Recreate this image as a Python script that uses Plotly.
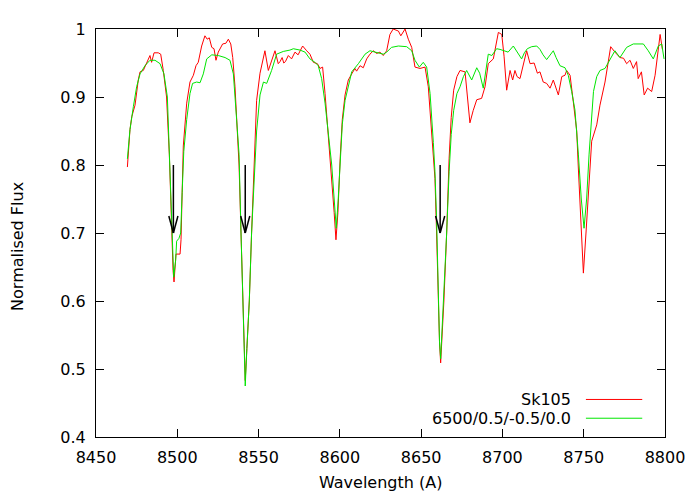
import plotly.graph_objects as go

# ---------------- data ----------------
obs_name = "Sk105"
obs_wl = [8469.3, 8470.9, 8472.0, 8474.0, 8476.0, 8477.1, 8479.1, 8480.1, 8482.2, 8483.2,
          8484.2, 8485.7, 8488.3, 8489.8, 8491.4, 8493.4, 8495.1, 8496.5, 8497.4, 8498.0,
          8498.6, 8499.2, 8501.7, 8502.3, 8503.0, 8503.7, 8505.8, 8507.8, 8509.9, 8511.5,
          8512.9, 8515.0, 8517.0, 8518.4, 8519.7, 8521.2, 8522.6, 8523.8, 8525.2, 8527.9,
          8529.9, 8531.4, 8532.9, 8534.1, 8535.5, 8536.8, 8538.0, 8539.2, 8540.2, 8541.0,
          8541.8, 8542.8, 8544.3, 8545.7, 8547.3, 8548.8, 8550.9, 8553.9, 8556.0, 8558.0,
          8560.1, 8562.1, 8563.2, 8564.5, 8565.5, 8566.5, 8568.3, 8570.3, 8572.4, 8574.3,
          8577.1, 8579.6, 8581.6, 8583.7, 8586.2, 8587.8, 8589.4, 8590.9, 8593.0, 8595.0,
          8596.5, 8597.6, 8598.8, 8600.2, 8601.5, 8603.2, 8605.2, 8607.3, 8609.3, 8610.3,
          8612.4, 8614.4, 8616.5, 8618.5, 8620.6, 8622.6, 8624.7, 8626.7, 8628.8, 8630.8,
          8632.8, 8636.0, 8637.5, 8640.1, 8642.1, 8644.2, 8646.2, 8649.3, 8652.4, 8654.4,
          8656.5, 8658.5, 8659.5, 8660.5, 8661.3, 8662.0, 8663.0, 8664.0, 8665.7, 8667.2,
          8668.5, 8670.0, 8672.0, 8673.9, 8677.0, 8678.5, 8680.0, 8682.0, 8684.2, 8687.2,
          8689.3, 8691.3, 8694.4, 8697.5, 8699.6, 8701.0, 8702.6, 8704.7, 8706.3, 8707.7,
          8709.0, 8710.8, 8712.8, 8714.9, 8717.0, 8719.5, 8721.5, 8723.1, 8725.1, 8727.2,
          8729.3, 8731.3, 8733.4, 8734.4, 8736.5, 8738.5, 8739.5, 8741.6, 8743.6, 8745.7,
          8746.6, 8748.7, 8749.8, 8751.4, 8753.0, 8754.9, 8758.0, 8760.0, 8763.1, 8765.1,
          8766.6, 8769.2, 8772.3, 8774.5, 8776.4, 8778.5, 8780.5, 8782.5, 8783.5, 8785.5,
          8787.2, 8789.3, 8791.8, 8793.9, 8795.5, 8797.0, 8798.4]
obs_flux = [0.797, 0.852, 0.871, 0.888, 0.925, 0.937, 0.939, 0.944, 0.956, 0.961,
            0.951, 0.965, 0.965, 0.963, 0.939, 0.900, 0.816, 0.700, 0.645, 0.628,
            0.650, 0.669, 0.669, 0.690, 0.760, 0.828, 0.891, 0.922, 0.932, 0.946,
            0.951, 0.975, 0.990, 0.985, 0.987, 0.973, 0.971, 0.954, 0.966, 0.978,
            0.979, 0.985, 0.978, 0.958, 0.915, 0.850, 0.800, 0.700, 0.600, 0.530,
            0.483, 0.530, 0.600, 0.700, 0.800, 0.895, 0.935, 0.968, 0.939, 0.954,
            0.968, 0.949, 0.952, 0.958, 0.950, 0.952, 0.961, 0.956, 0.966, 0.962,
            0.975, 0.968, 0.963, 0.951, 0.949, 0.942, 0.944, 0.905, 0.840, 0.790,
            0.730, 0.690, 0.730, 0.810, 0.867, 0.903, 0.925, 0.934, 0.942, 0.938,
            0.946, 0.943, 0.956, 0.963, 0.968, 0.964, 0.966, 0.961, 0.968, 0.992,
            1.000, 0.997, 0.990, 1.000, 0.985, 0.973, 0.944, 0.942, 0.944, 0.915,
            0.842, 0.780, 0.700, 0.600, 0.540, 0.509, 0.550, 0.600, 0.700, 0.810,
            0.870, 0.910, 0.930, 0.939, 0.937, 0.900, 0.862, 0.880, 0.896, 0.898,
            0.915, 0.949, 0.956, 0.995, 0.992, 0.960, 0.910, 0.939, 0.925, 0.939,
            0.930, 0.927, 0.945, 0.968, 0.949, 0.950, 0.935, 0.937, 0.922, 0.920,
            0.913, 0.925, 0.910, 0.903, 0.930, 0.932, 0.939, 0.932, 0.893, 0.850,
            0.800, 0.700, 0.641, 0.700, 0.770, 0.835, 0.859, 0.888, 0.922, 0.951,
            0.974, 0.966, 0.958, 0.957, 0.949, 0.954, 0.942, 0.952, 0.927, 0.937,
            0.903, 0.913, 0.908, 0.932, 0.961, 0.992, 0.970]

model_name = "6500/0.5/-0.5/0.0"
model_wl = [8469.3, 8470.9, 8473.0, 8475.0, 8477.1, 8480.1, 8483.2, 8486.3, 8489.4, 8491.8,
            8493.9, 8495.1, 8496.5, 8497.8, 8499.0, 8499.6, 8501.0, 8502.1, 8503.0, 8504.0,
            8505.8, 8507.8, 8509.4, 8511.9, 8514.0, 8516.0, 8518.1, 8521.2, 8525.2, 8529.4,
            8532.4, 8534.5, 8536.5, 8538.0, 8539.2, 8540.2, 8541.0, 8541.8, 8542.8, 8544.3,
            8545.7, 8547.8, 8548.8, 8550.9, 8553.0, 8555.0, 8558.0, 8561.1, 8565.2, 8569.3,
            8571.4, 8575.5, 8578.6, 8581.6, 8584.7, 8586.7, 8588.8, 8590.9, 8593.0, 8595.0,
            8596.5, 8597.8, 8599.0, 8600.2, 8601.5, 8603.2, 8605.2, 8607.3, 8611.4, 8615.5,
            8618.5, 8622.6, 8626.7, 8628.8, 8631.8, 8636.0, 8641.1, 8644.2, 8646.2, 8648.9,
            8651.3, 8653.4, 8655.5, 8657.5, 8658.5, 8659.5, 8660.5, 8661.3, 8662.0, 8663.0,
            8664.0, 8665.7, 8667.2, 8668.5, 8670.0, 8672.0, 8673.9, 8676.0, 8678.0, 8681.1,
            8684.2, 8686.0, 8688.2, 8690.0, 8691.3, 8693.5, 8696.4, 8698.5, 8700.5, 8703.5,
            8706.7, 8709.5, 8711.8, 8713.5, 8715.3, 8718.0, 8721.1, 8723.1, 8725.0, 8727.2,
            8729.3, 8731.3, 8733.0, 8735.4, 8738.5, 8740.5, 8742.6, 8744.6, 8746.7, 8748.5,
            8750.2, 8751.8, 8753.3, 8754.5, 8756.0, 8758.0, 8760.0, 8763.1, 8766.2, 8769.2,
            8772.3, 8776.4, 8780.5, 8786.7, 8789.7, 8792.8, 8795.9, 8798.0, 8799.4]
model_flux = [0.809, 0.852, 0.886, 0.915, 0.934, 0.946, 0.954, 0.954, 0.949, 0.934,
              0.900, 0.816, 0.700, 0.635, 0.660, 0.688, 0.692, 0.700, 0.760, 0.820,
              0.867, 0.905, 0.920, 0.922, 0.921, 0.934, 0.956, 0.962, 0.961, 0.958,
              0.954, 0.934, 0.867, 0.816, 0.700, 0.600, 0.530, 0.475, 0.530, 0.600,
              0.700, 0.816, 0.850, 0.903, 0.922, 0.920, 0.939, 0.963, 0.967, 0.969,
              0.971, 0.969, 0.966, 0.956, 0.951, 0.946, 0.927, 0.891, 0.840, 0.800,
              0.750, 0.707, 0.750, 0.810, 0.860, 0.895, 0.915, 0.937, 0.949, 0.963,
              0.968, 0.966, 0.963, 0.966, 0.973, 0.975, 0.974, 0.968, 0.954, 0.944,
              0.951, 0.944, 0.905, 0.833, 0.790, 0.720, 0.610, 0.540, 0.515, 0.560,
              0.610, 0.700, 0.790, 0.845, 0.880, 0.905, 0.915, 0.930, 0.939, 0.925,
              0.943, 0.935, 0.913, 0.945, 0.963, 0.961, 0.971, 0.970, 0.968, 0.966,
              0.975, 0.965, 0.956, 0.965, 0.971, 0.974, 0.975, 0.970, 0.962, 0.955,
              0.962, 0.968, 0.958, 0.946, 0.943, 0.932, 0.908, 0.881, 0.816, 0.750,
              0.707, 0.750, 0.816, 0.865, 0.908, 0.930, 0.939, 0.942, 0.956, 0.968,
              0.958, 0.973, 0.978, 0.978, 0.968, 0.956, 0.975, 0.978, 0.956]

# Ca II triplet markers (arrows from 0.8 down to 0.7)
arrow_wl = [8497.6, 8541.8, 8661.7]
arrow_from = 0.8
arrow_to = 0.7

x_ticks = [8450, 8500, 8550, 8600, 8650, 8700, 8750, 8800]
y_ticks = [0.4, 0.5, 0.6, 0.7, 0.8, 0.9, 1.0]
y_tick_text = ["0.4", "0.5", "0.6", "0.7", "0.8", "0.9", "1"]

x_title = "Wavelength (A)"
y_title = "Normalised Flux"

# ---------------- styling ----------------
FONT = "DejaVu Sans, Liberation Sans, Arial, sans-serif"
FS = 16
RED = "#ff0000"
GREEN = "#00e600"

fig = go.Figure()
fig.add_trace(go.Scatter(x=obs_wl, y=obs_flux, mode="lines", name=obs_name,
                         line=dict(color=RED, width=1), showlegend=False))
fig.add_trace(go.Scatter(x=model_wl, y=model_flux, mode="lines", name=model_name,
                         line=dict(color=GREEN, width=1), showlegend=False))

shapes = []
head_dx = 2.8
head_dy = 0.025
for w in arrow_wl:
    shapes.append(dict(type="line", xref="x", yref="y", x0=w, x1=w, y0=arrow_from, y1=arrow_to,
                       line=dict(color="black", width=1.5)))
    shapes.append(dict(type="line", xref="x", yref="y", x0=w - head_dx, x1=w,
                       y0=arrow_to + head_dy, y1=arrow_to, line=dict(color="black", width=1.5)))
    shapes.append(dict(type="line", xref="x", yref="y", x0=w + head_dx, x1=w,
                       y0=arrow_to + head_dy, y1=arrow_to, line=dict(color="black", width=1.5)))

# manual gnuplot-style key (text right-aligned, sample to the right)
key_items = [(obs_name, RED, 0.092), (model_name, GREEN, 0.046)]
annotations = []
for name, col, yy in key_items:
    annotations.append(dict(xref="paper", yref="paper", x=0.838, y=yy, xanchor="right",
                            yanchor="middle", text=name, showarrow=False,
                            font=dict(family=FONT, size=FS, color="black")))
    shapes.append(dict(type="line", xref="paper", yref="paper", x0=0.861, x1=0.96,
                       y0=yy, y1=yy, line=dict(color=col, width=1)))

annotations.append(dict(xref="paper", yref="paper", x=0.5, y=-0.112, xanchor="center",
                        yanchor="middle", text=x_title, showarrow=False,
                        font=dict(family=FONT, size=FS, color="black")))
annotations.append(dict(xref="paper", yref="paper", x=-0.137, y=0.466, xanchor="center",
                        yanchor="middle", text=y_title, showarrow=False, textangle=-90,
                        font=dict(family=FONT, size=FS, color="black")))

# the page puts the figure 8px in from the top-left corner, so the figure is
# sized/margined to land the plot box where the reference has it
fig.update_layout(
    width=692, height=492,
    margin=dict(l=88, r=35, t=15, b=63),
    paper_bgcolor="white", plot_bgcolor="white",
    font=dict(family=FONT, size=FS, color="black"),
    shapes=shapes, annotations=annotations,
    showlegend=False,
)
fig.update_xaxes(range=[8450, 8800], tickvals=x_ticks, ticks="inside", ticklen=8,
                 tickcolor="black", showline=True, linecolor="black", linewidth=1,
                 mirror="ticks", showgrid=False, zeroline=False, ticklabelstandoff=6)
fig.update_yaxes(range=[0.4, 1.0], tickvals=y_ticks, ticktext=y_tick_text, ticks="inside",
                 ticklen=8, tickcolor="black", showline=True, linecolor="black", linewidth=1,
                 mirror="ticks", showgrid=False, zeroline=False, ticklabelstandoff=6)

fig.write_html("out.html")
